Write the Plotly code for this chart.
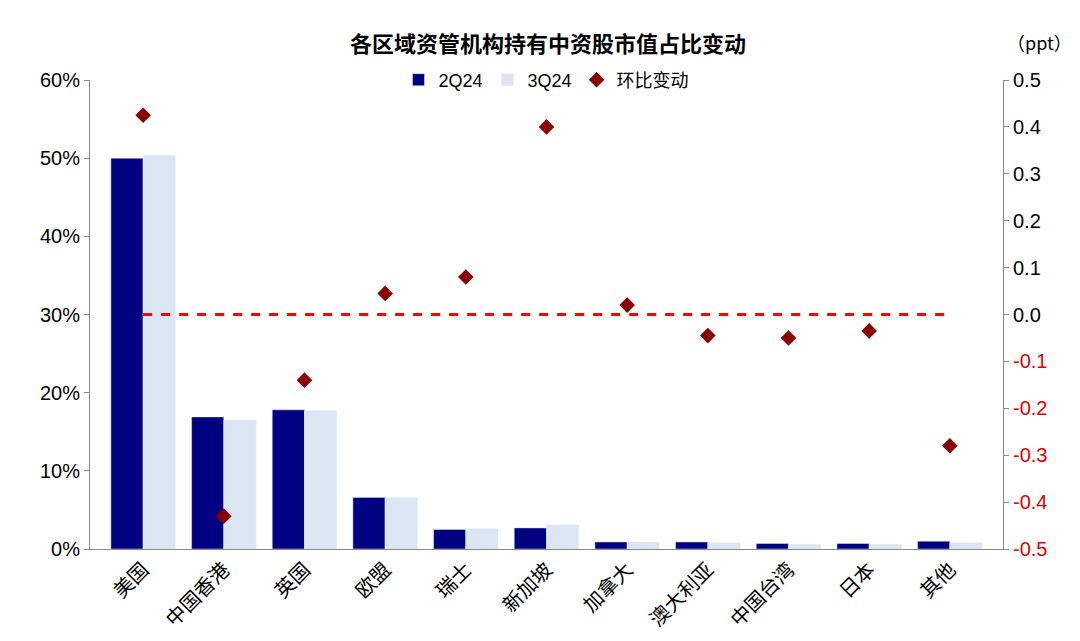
import plotly.graph_objects as go

categories = ["美国","中国香港","英国","欧盟","瑞士","新加坡","加拿大","澳大利亚","中国台湾","日本","其他"]
q2 = [50.0, 16.9, 17.8, 6.6, 2.5, 2.7, 0.9, 0.9, 0.7, 0.7, 1.0]
q3 = [50.4, 16.5, 17.7, 6.6, 2.6, 3.1, 0.9, 0.8, 0.6, 0.6, 0.8]
chg = [0.425, -0.43, -0.14, 0.045, 0.08, 0.40, 0.02, -0.045, -0.05, -0.035, -0.28]
zero = [0]*len(categories)

rt_vals = [0.5,0.4,0.3,0.2,0.1,0.0,-0.1,-0.2,-0.3,-0.4,-0.5]
rt_text = [f"{v:.1f}" if v >= 0 else f"<span style='color:#e00000'>{v:.1f}</span>" for v in rt_vals]

fig = go.Figure()
fig.add_bar(x=categories, y=q2, name="2Q24", marker_color="#000080")
fig.add_bar(x=categories, y=q3, name="3Q24", marker_color="#dce6f2")
fig.add_scatter(x=categories, y=zero, yaxis="y2", mode="lines", showlegend=False,
                line=dict(color="#ff0000", dash="dash", width=3))
fig.add_scatter(x=categories, y=chg, yaxis="y2", mode="markers", name="环比变动",
                marker=dict(symbol="diamond", color="#8b0000", size=12))

fig.update_layout(
    width=1080, height=641,
    font=dict(family="Liberation Sans, Noto Sans CJK SC", size=20, color="#000"),
    title=dict(text="<b>各区域资管机构持有中资股市值占比变动</b>", x=0.5, y=0.955, xanchor="center",
               font=dict(size=22, family="Noto Sans CJK SC")),
    plot_bgcolor="white", paper_bgcolor="white",
    margin=dict(l=82, r=85, t=72, b=100, autoexpand=False),
    bargap=0.2, bargroupgap=0,
    legend=dict(orientation="h", x=0.5, xanchor="center", y=1.0, yanchor="middle",
                font=dict(size=18, family="Liberation Sans, Noto Sans CJK SC"), bgcolor="rgba(255,255,255,0)"),
    xaxis=dict(tickangle=-45, showline=True, linecolor="#888", ticks="", automargin=False,
               tickfont=dict(size=20, family="Noto Sans CJK SC")),
    yaxis=dict(range=[0,60], tickvals=[0,10,20,30,40,50,60], ticktext=[f"{v}%" for v in range(0,61,10)],
               showgrid=False, showline=True, linecolor="#888", ticks="outside", tickcolor="#888", automargin=False),
    yaxis2=dict(range=[-0.5,0.5], overlaying="y", side="right", tickvals=rt_vals, ticktext=rt_text, automargin=False,
                showgrid=False, showline=True, linecolor="#888", ticks="outside", tickcolor="#888", zeroline=False),
    annotations=[dict(text="（ppt）", x=1030, xref="paper", y=1.0, yref="paper", showarrow=False,
                      font=dict(size=18, family="Noto Sans CJK SC"))]
)
fig.layout.annotations[0].update(x=1.04, xanchor="center", y=1.08, yanchor="middle")
fig.write_html("out.html")
